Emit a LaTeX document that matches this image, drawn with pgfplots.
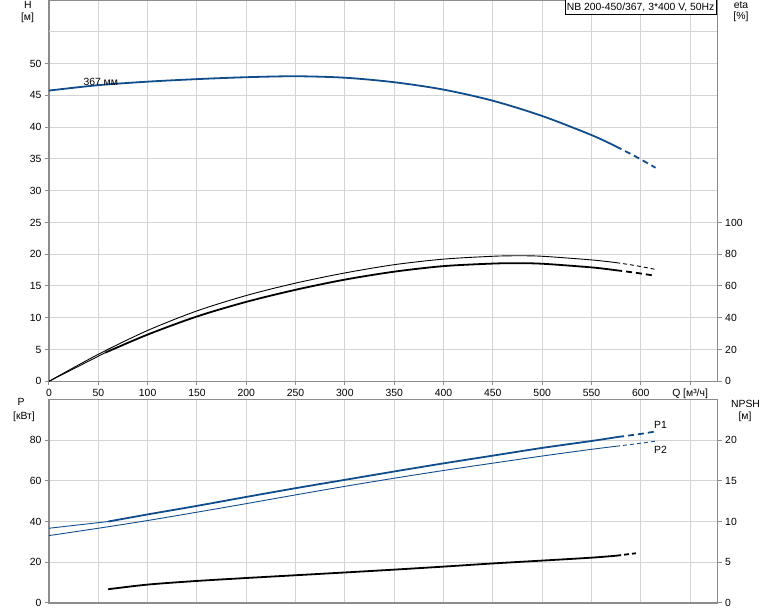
\documentclass[border=0pt]{standalone}
\usepackage{fontspec}
\setmainfont{Liberation Sans}
\usepackage{pgfplots}
\pgfplotsset{compat=1.18}

\definecolor{curveblue}{RGB}{16,77,140}
\definecolor{framegray}{RGB}{140,140,140}
\definecolor{gridgray}{RGB}{212,212,212}

\pgfplotsset{
  pump/.style={
    scale only axis,
    width=668.7pt,
    xmin=0, xmax=678,
    axis line style={draw=framegray, line width=1.5pt},
    grid=major,
    grid style={draw=gridgray, line width=1pt},
    tick style={draw=framegray, line width=1pt},
    major tick length=4pt,
    tick align=outside,
    /pgf/number format/assume math mode=true,
    ticklabel style={font=\fontsize{10.4}{12}\selectfont},
  },
  rightaxis/.style={
    scale only axis,
    width=668.7pt,
    xmin=0, xmax=678,
    axis x line=none,
    axis y line*=right,
    axis line style={draw=framegray, line width=1.5pt},
    tick style={draw=framegray, line width=1pt},
    major tick length=4pt,
    tick align=outside,
    /pgf/number format/assume math mode=true,
    ticklabel style={font=\fontsize{10.4}{12}\selectfont},
  },
  thickc/.style={line width=1.8pt, smooth},
  thinc/.style={line width=0.9pt, smooth},
}

\begin{document}
\begin{tikzpicture}[font=\fontsize{10.4}{12}\selectfont]
\useasboundingbox (0,0) rectangle (774pt,611pt);

% ---------- upper chart: H and eta ----------
\begin{axis}[pump,
  at={(49pt,229.7pt)}, anchor=south west, height=381.3pt,
  ymin=0, ymax=60,
  xtick={0,50,...,650},
  xticklabels={0,50,100,150,200,250,300,350,400,450,500,550,600,{Q [м³/ч]}},
  ytick={0,5,...,50},
  extra y ticks={55}, extra y tick labels={},
  extra y tick style={major tick length=0pt},
  xtick pos=bottom, ytick pos=left,
]
% H, 367 mm
\addplot[thickc, draw=curveblue] coordinates {
  (0,45.75) (50,46.6) (100,47.15) (150,47.55) (200,47.85) (250,48.0)
  (300,47.77) (350,47.06) (400,45.9) (450,44.15) (500,41.75) (550,38.75) (575,36.95)
};
\addplot[thickc, draw=curveblue, dash pattern=on 6pt off 4pt] coordinates {
  (575,36.95) (595,35.35) (615,33.6)
};
\node[anchor=center] at (axis cs:52.5,47.1) {367 мм};
\end{axis}

\begin{axis}[rightaxis,
  at={(49pt,229.7pt)}, anchor=south west, height=381.3pt,
  ymin=0, ymax=240,
  ytick={0,20,...,100},
]
% eta, upper (thin)
\addplot[thinc, draw=black] coordinates {
  (0,0) (50,17) (100,32) (150,44.3) (200,54) (250,61.8) (300,68.2)
  (350,73.4) (400,76.9) (450,78.7) (475,79.0) (500,78.7) (550,76.4) (575,74.7)
};
\addplot[thinc, draw=black, dash pattern=on 4pt off 3pt] coordinates {
  (575,74.7) (595,72.8) (615,70.4)
};
% eta, lower (thick)
\addplot[thinc, draw=black] coordinates {(0,0) (57,18)};
\addplot[thickc, draw=black] coordinates {
  (57,18) (100,29.4) (150,40.8) (200,50) (250,57.6) (300,64) (350,69.0)
  (400,72.5) (450,74.1) (475,74.3) (500,74.0) (550,71.7) (575,69.9)
};
\addplot[thickc, draw=black, dash pattern=on 6pt off 4pt] coordinates {
  (575,69.9) (595,68.3) (615,66.4)
};
\end{axis}

% ---------- lower chart: P and NPSH ----------
\begin{axis}[pump,
  at={(49pt,8.1pt)}, anchor=south west, height=203.4pt,
  ymin=0, ymax=100,
  xtick={0,50,...,650}, xticklabels={},
  xtick style={draw=none},
  ytick={0,20,...,80},
  xtick pos=bottom, ytick pos=left,
]
% P1
\addplot[thinc, draw=curveblue] coordinates {(0,36.7) (60,40)};
\addplot[thickc, draw=curveblue] coordinates {
  (60,40) (100,43.5) (150,47.7) (200,52.1) (250,56.4) (300,60.5) (350,64.6)
  (400,68.6) (450,72.4) (500,76.2) (550,79.6) (577,81.6)
};
\addplot[thickc, draw=curveblue, dash pattern=on 6pt off 4pt] coordinates {
  (577,81.6) (600,83.1) (615,84.3)
};
% P2
\addplot[thinc, draw=curveblue] coordinates {
  (0,33.1) (50,36.7) (100,40.5) (150,44.6) (200,48.8) (250,53.1) (300,57.3)
  (350,61.3) (400,65.1) (450,68.7) (500,72.2) (550,75.5) (575,77)
};
\addplot[thinc, draw=curveblue, dash pattern=on 4pt off 3pt] coordinates {
  (575,77) (600,78.5) (615,79.5)
};
\node[anchor=west] at (axis cs:610,87.3) {P1};
\node[anchor=west] at (axis cs:610,75.3) {P2};
\end{axis}

\begin{axis}[rightaxis,
  at={(49pt,8.1pt)}, anchor=south west, height=203.4pt,
  ymin=0, ymax=25,
  ytick={0,5,...,20},
]
% NPSH
\addplot[thickc, draw=black] coordinates {
  (60,1.68) (100,2.25) (150,2.7) (200,3.06) (250,3.4) (300,3.74) (350,4.09)
  (400,4.46) (450,4.85) (500,5.2) (550,5.56) (575,5.8)
};
\addplot[thickc, draw=black, dash pattern=on 5pt off 3pt] coordinates {
  (575,5.8) (595,6.1)
};
\end{axis}

% axis titles and caption
\node at (28pt,606pt) {H};
\node at (27.5pt,593pt) {[м]};
\node at (741pt,606pt) {eta};
\node at (741pt,594pt) {[\%]};
\node at (21pt,209pt) {P};
\node at (24pt,194pt) {[кВт]};
\node at (745.5pt,207pt) {NPSH};
\node at (745pt,194pt) {[м]};
\node[draw=black, fill=white, line width=0.6pt, inner xsep=1.8pt, inner ysep=3pt,
      anchor=north east] at (716.5pt,611.5pt) {NB 200-450/367, 3*400 V, 50Hz};
\end{tikzpicture}
\end{document}
